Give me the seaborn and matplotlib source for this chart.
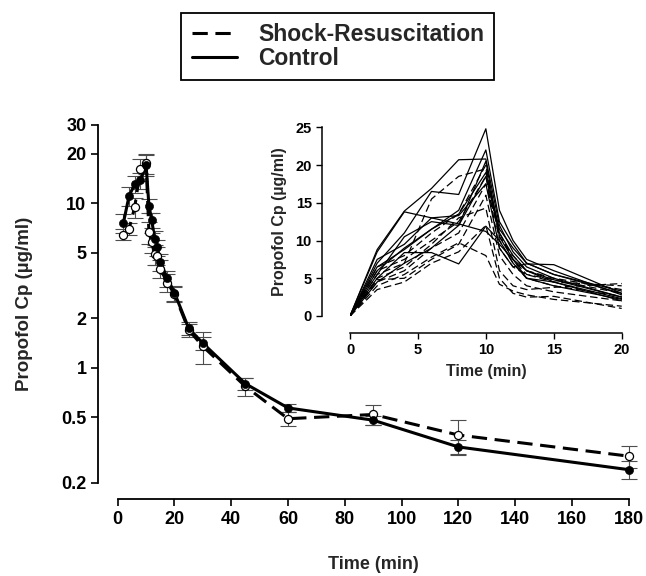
import pandas as pd
import matplotlib
matplotlib.use("Agg")
import matplotlib.pyplot as plt
from matplotlib.lines import Line2D
from matplotlib.ticker import NullLocator
import seaborn as sns

sns.set_style("ticks")
plt.rcParams['font.family'] = ['Liberation Sans', 'DejaVu Sans']
plt.rcParams['font.weight'] = 'bold'
plt.rcParams['axes.labelweight'] = 'bold'

#%% mean concentration data (main panel)

time_min = [2, 4, 6, 8, 10, 11, 12, 13, 14, 15, 17.5, 20, 25, 30, 45, 60, 90, 120, 180]
control_cp = [7.6, 11.1, 13.1, 13.8, 17.1, 9.7, 7.9, 6.1, 5.4, 4.4, 3.5, 2.86, 1.74, 1.41, 0.80, 0.57, 0.48, 0.33, 0.24]
control_sem = [1.0, 1.5, 1.5, 1.5, 2.5, 1.0, 0.8, 0.7, 0.6, 0.5, 0.4, 0.3, 0.15, 0.12, 0.07, 0.03, 0.03, 0.035, 0.03]
shock_cp = [6.45, 7.0, 9.5, 16.2, 17.5, 6.7, 5.8, 4.9, 4.8, 4.0, 3.3, 2.8, 1.70, 1.35, 0.77, 0.49, 0.52, 0.39, 0.29]
shock_sem = [0.5, 0.6, 1.3, 2.5, 2.5, 1.0, 0.8, 0.7, 0.6, 0.5, 0.4, 0.3, 0.15, 0.3, 0.1, 0.05, 0.07, 0.09, 0.045]

#%% individual animals (inset, first 20 min)

inset_time = [0, 2, 4, 6, 8, 10, 11, 12, 13, 15, 20]
control_subjects = [
    [0, 8.8, 13.9, 16.9, 20.7, 20.8, 12.0, 8.5, 6.5, 5.0, 2.5],
    [0, 8.5, 13.8, 13.0, 12.2, 11.2, 9.5, 7.5, 6.0, 4.5, 2.3],
    [0, 7.0, 11.0, 16.5, 16.1, 24.8, 14.0, 10.0, 7.5, 6.0, 2.8],
    [0, 6.0, 9.0, 11.5, 13.5, 19.0, 11.5, 9.0, 7.0, 5.5, 3.0],
    [0, 5.0, 8.4, 8.4, 6.9, 11.9, 10.0, 7.0, 5.0, 4.5, 2.0],
    [0, 5.5, 10.5, 12.5, 12.0, 18.5, 11.0, 8.0, 6.0, 4.8, 2.5],
    [0, 7.5, 9.5, 13.0, 13.3, 17.5, 9.0, 6.5, 6.9, 6.8, 3.0],
    [0, 6.5, 8.8, 11.5, 14.0, 22.0, 12.5, 9.5, 7.0, 5.5, 3.3],
    [0, 4.5, 7.0, 9.0, 12.0, 20.5, 10.5, 7.5, 5.0, 4.0, 2.2],
]
shock_subjects = [
    [0, 3.5, 4.5, 7.0, 8.5, 12.0, 5.0, 3.0, 2.5, 2.6, 1.0],
    [0, 4.0, 5.5, 7.8, 9.7, 8.0, 4.2, 3.3, 2.8, 2.2, 1.3],
    [0, 5.0, 6.5, 9.5, 13.0, 14.3, 6.0, 4.0, 3.5, 3.8, 4.3],
    [0, 6.0, 7.5, 10.0, 12.5, 18.5, 9.0, 6.5, 5.5, 4.5, 4.0],
    [0, 5.5, 7.0, 15.5, 18.5, 19.5, 10.0, 7.0, 5.0, 4.0, 2.6],
    [0, 4.5, 6.0, 9.0, 11.0, 17.5, 11.0, 7.5, 5.5, 4.8, 3.0],
    [0, 6.5, 8.0, 11.0, 13.5, 20.0, 10.5, 8.0, 6.0, 5.0, 3.5],
    [0, 4.8, 5.0, 7.5, 9.5, 16.0, 8.0, 5.5, 4.0, 3.2, 2.0],
]

#%% build tables

mean_df = pd.concat([
    pd.DataFrame({'time': time_min, 'cp': shock_cp, 'sem': shock_sem, 'group': 'Shock'}),
    pd.DataFrame({'time': time_min, 'cp': control_cp, 'sem': control_sem, 'group': 'Control'}),
])

rows = []
for i, vals in enumerate(control_subjects):
    for t, v in zip(inset_time, vals):
        rows.append({'time': t, 'cp': v, 'subject': 'c%d' % i, 'group': 'Control'})
for i, vals in enumerate(shock_subjects):
    for t, v in zip(inset_time, vals):
        rows.append({'time': t, 'cp': v, 'subject': 's%d' % i, 'group': 'Shock'})
subj_df = pd.DataFrame(rows)

#%% main panel

fig = plt.figure(figsize=(6.46, 5.76), dpi=100)
ax = fig.add_axes([0.1822, 0.162, 0.791, 0.621])

for grp, cp, sem in [('Shock', shock_cp, shock_sem), ('Control', control_cp, control_sem)]:
    eb = ax.errorbar(time_min, cp, yerr=sem, fmt='none', ecolor='0.3',
                     elinewidth=0.8, capsize=6, capthick=0.8, zorder=1)
    for art in eb.lines[1] + eb.lines[2]:
        art.set_clip_on(False)

sns.lineplot(data=mean_df, x='time', y='cp', style='group', estimator=None,
             dashes={'Control': '', 'Shock': (5, 2.5)}, color='black',
             lw=2.2, legend=False, ax=ax, zorder=2)
sns.scatterplot(x=time_min, y=shock_cp, color='white', edgecolor='black',
                linewidth=0.9, s=34, ax=ax, zorder=3, clip_on=False)
sns.scatterplot(x=time_min, y=control_cp, color='black', edgecolor='black',
                s=34, ax=ax, zorder=4, clip_on=False)

ax.set_yscale('log')
ax.set_xlim(0, 180)
ax.set_ylim(0.2, 30)
ax.set_xticks(range(0, 181, 20))
ax.set_yticks([0.2, 0.5, 1, 2, 5, 10, 20, 30], ['0.2', '0.5', '1', '2', '5', '10', '20', '30'])
ax.yaxis.set_minor_locator(NullLocator())
ax.tick_params(labelsize=13, length=5, width=1.2, colors='black')
ax.set_xlabel('Time (min)', fontsize=13, labelpad=20)
ax.set_ylabel('Propofol Cp (µg/ml)', fontsize=13.5, labelpad=20)
for sp in ax.spines.values():
    sp.set_linewidth(1.3)
    sp.set_color('black')
sns.despine(ax=ax, offset={'left': 14, 'bottom': 12}, trim=True)

#%% inset

ins = fig.add_axes([0.5418, 0.4514, 0.4206, 0.3276])
sns.lineplot(data=subj_df, x='time', y='cp', units='subject', style='group',
             estimator=None, dashes={'Control': '', 'Shock': (6, 3)},
             color='black', lw=0.9, legend=False, ax=ins)
ins.set_xlim(0, 20)
ins.set_ylim(0, 25)
ins.set_xticks(range(0, 21, 5))
ins.set_yticks(range(0, 26, 5))
ins.tick_params(labelsize=10.5, length=4, width=1.0, colors='black')
ins.set_xlabel('Time (min)', fontsize=11.5, labelpad=5)
ins.set_ylabel('Propofol Cp (µg/ml)', fontsize=11.5, labelpad=6)
for sp in ins.spines.values():
    sp.set_linewidth(1.1)
    sp.set_color('black')
sns.despine(ax=ins, offset={'left': 20, 'bottom': 12}, trim=True)

#%% legend

handles = [Line2D([], [], color='black', lw=2.2, ls=(0, (5, 2.5))),
           Line2D([], [], color='black', lw=2.2)]
leg = fig.legend(handles, ['Shock-Resuscitation', 'Control'], loc='upper center',
                 bbox_to_anchor=(0.523, 0.978), borderaxespad=0, frameon=True,
                 fancybox=False, edgecolor='black', framealpha=1, handlelength=2.0,
                 borderpad=0.45, labelspacing=0.05, handletextpad=0.9,
                 prop={'weight': 'bold', 'size': 16.5})
leg.get_frame().set_linewidth(1.3)

fig.savefig('out.png', dpi=100)
